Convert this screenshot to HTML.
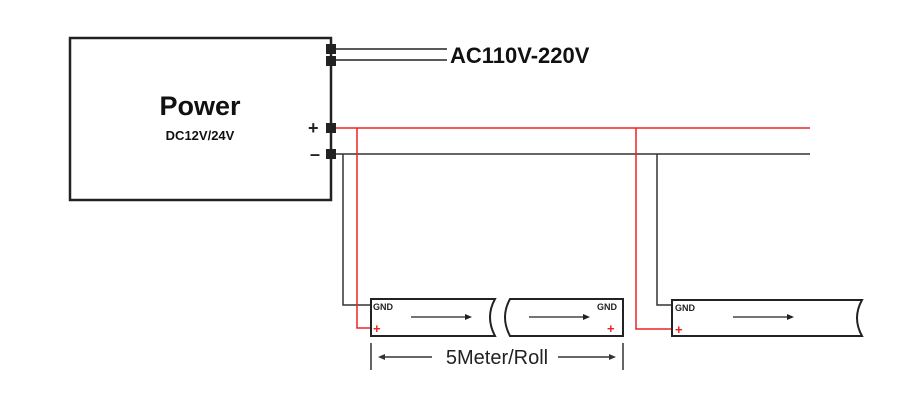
<!DOCTYPE html>
<html><head><style>body{margin:0;background:#fff}svg{display:block}</style></head><body>
<svg width="900" height="402" viewBox="0 0 900 402" xmlns="http://www.w3.org/2000/svg" font-family="Liberation Sans, Arial, sans-serif">
<rect x="70" y="38" width="261" height="162" fill="#fff" stroke="#222" stroke-width="2.5"/>
<text x="200" y="115" font-size="27" font-weight="bold" text-anchor="middle" fill="#111">Power</text>
<text x="200" y="140" font-size="13" font-weight="bold" text-anchor="middle" fill="#111">DC12V/24V</text>
<line x1="331" y1="49" x2="447" y2="49" stroke="#222" stroke-width="1.5"/>
<line x1="331" y1="60" x2="447" y2="60" stroke="#222" stroke-width="1.5"/>
<text x="450" y="63" font-size="22" font-weight="bold" fill="#111">AC110V-220V</text>
<line x1="331" y1="128" x2="810" y2="128" stroke="#e22" stroke-width="1.5"/>
<line x1="331" y1="154" x2="810" y2="154" stroke="#333" stroke-width="1.5"/>
<text x="308" y="134" font-size="18" font-weight="bold" fill="#222">+</text>
<text x="310" y="160" font-size="18" font-weight="bold" fill="#222">–</text>
<g fill="#222"><rect x="326" y="44" width="10" height="10"/><rect x="326" y="56" width="10" height="10"/><rect x="326" y="123" width="10" height="10"/><rect x="326" y="149" width="10" height="10"/></g>
<polyline points="343,154 343,305 371,305" fill="none" stroke="#333" stroke-width="1.5"/>
<polyline points="357,128 357,328 371,328" fill="none" stroke="#e22" stroke-width="1.5"/>
<polyline points="657,154 657,305 672,305" fill="none" stroke="#333" stroke-width="1.5"/>
<polyline points="636,128 636,329 672,329" fill="none" stroke="#e22" stroke-width="1.5"/>
<g fill="#fff" stroke="#222" stroke-width="2">
<path d="M371,299 H495 Q485,317 495,336 H371 Z"/>
<path d="M510,299 H623 V336 H510 Q500,317 510,299 Z"/>
<path d="M672,300 H862 Q852,318 862,336 H672 Z"/>
</g>
<g font-size="9" font-weight="bold" fill="#222"><text x="373" y="310">GND</text><text x="597" y="310">GND</text><text x="675" y="311">GND</text></g>
<g font-size="13" font-weight="bold" fill="#e22"><text x="373" y="333">+</text><text x="607" y="333">+</text><text x="675" y="334">+</text></g>
<g stroke="#222" stroke-width="1.3"><line x1="411" y1="317" x2="466" y2="317"/><line x1="529" y1="317" x2="584" y2="317"/><line x1="733" y1="317" x2="788" y2="317"/></g>
<g fill="#222"><path d="M472,317 l-7,-3 v6z"/><path d="M590,317 l-7,-3 v6z"/><path d="M794,317 l-7,-3 v6z"/></g>
<g stroke="#333" stroke-width="1.5"><line x1="371" y1="343" x2="371" y2="370"/><line x1="623" y1="343" x2="623" y2="370"/><line x1="384" y1="357" x2="432" y2="357"/><line x1="558" y1="357" x2="610" y2="357"/></g>
<g fill="#333"><path d="M378,357 l7,-3 v6z"/><path d="M616,357 l-7,-3 v6z"/></g>
<text x="497" y="364" font-size="20" text-anchor="middle" fill="#222">5Meter/Roll</text>
</svg>
</body></html>
